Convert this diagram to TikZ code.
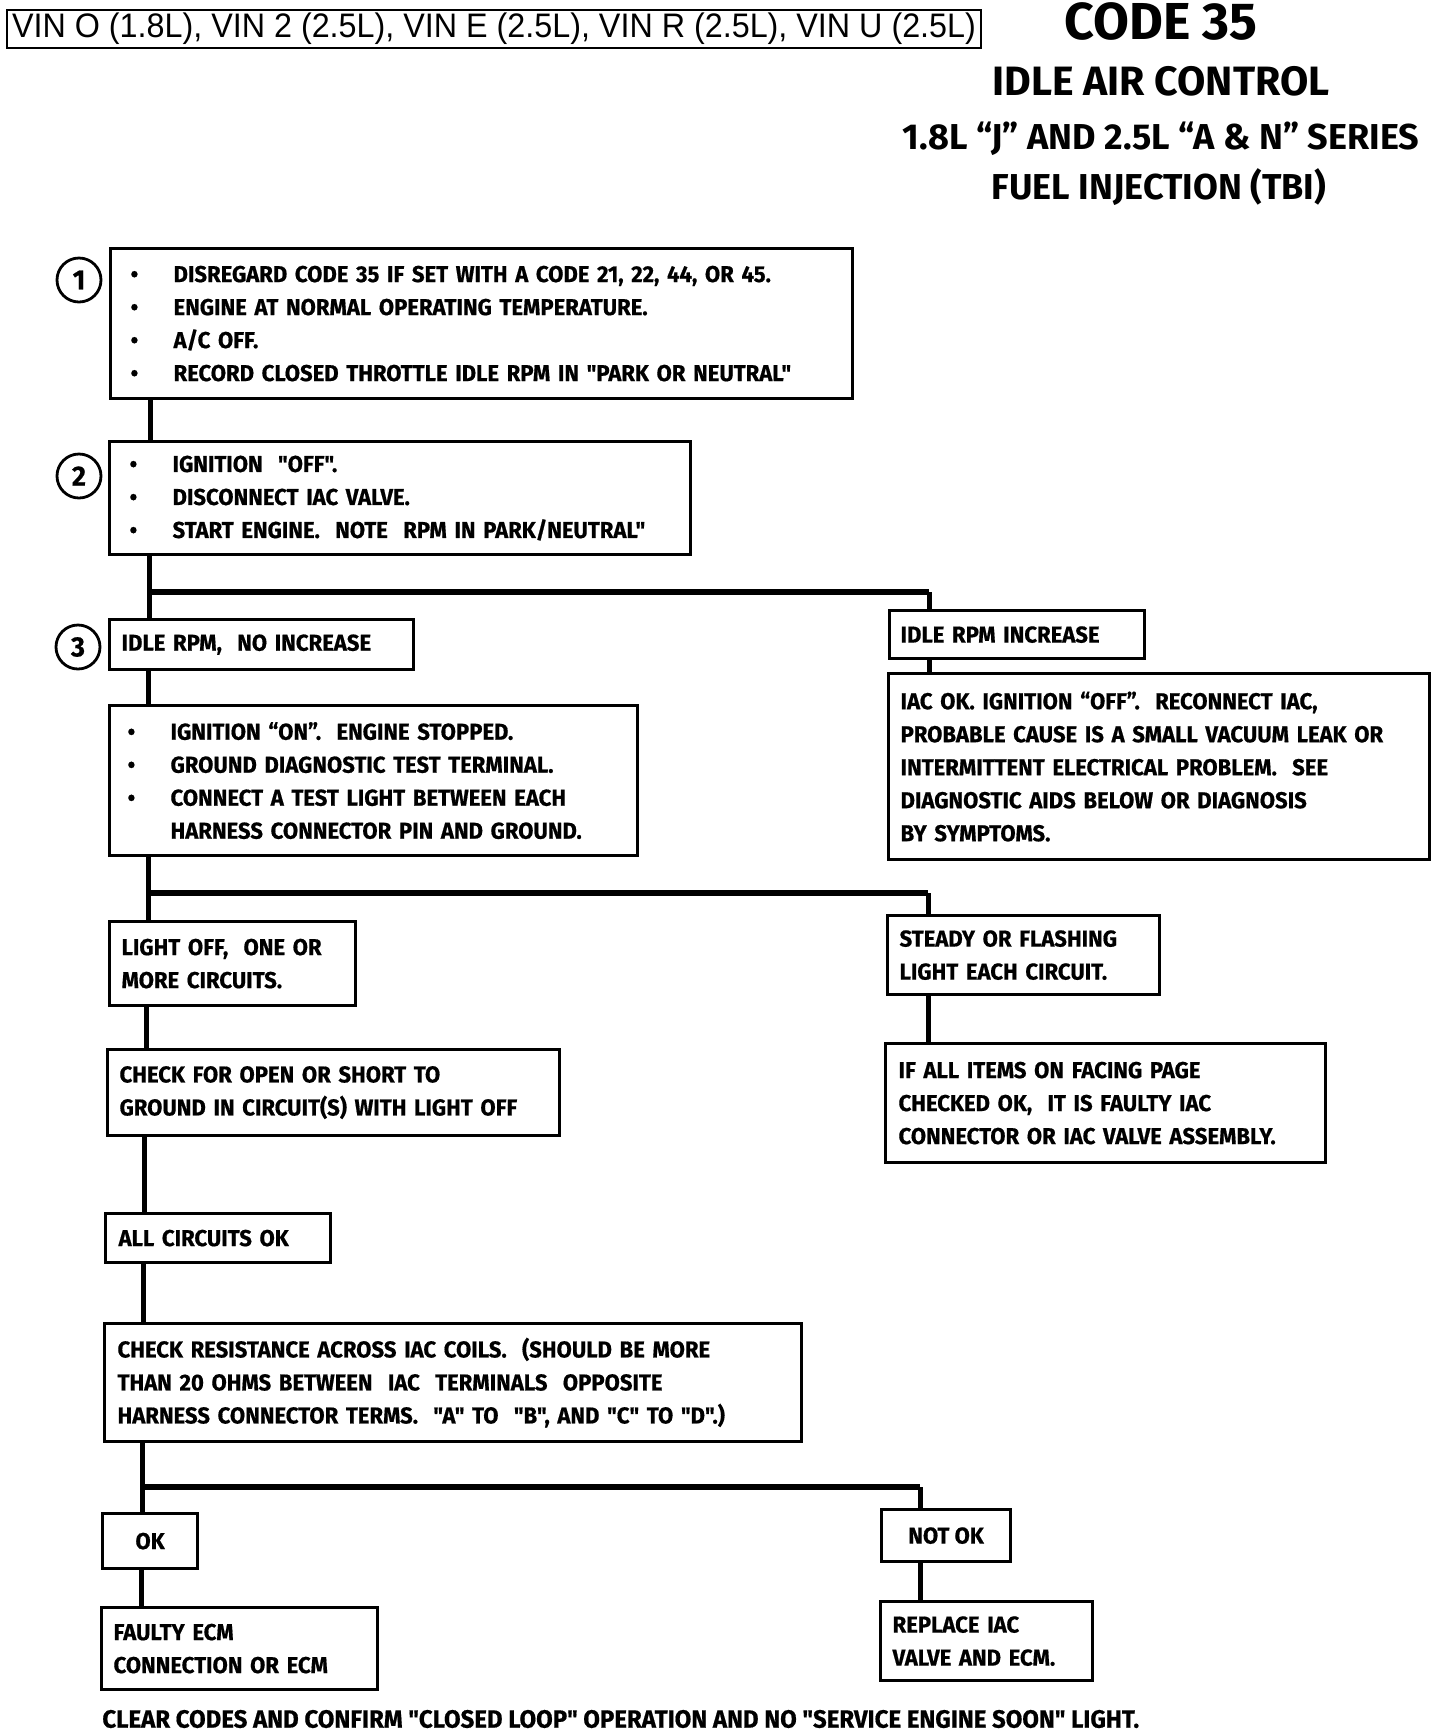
\documentclass[tikz,border=0pt]{standalone}
\usepackage{fontspec}
\newfontfamily\chartfont[FakeStretch=0.96, BoldFeatures={FakeBold=0.6}]{Fira Sans}
\newfontfamily\titlefont[FakeStretch=1.0]{Fira Sans}
\newfontfamily\vinfont[FakeStretch=0.95]{Liberation Sans}
\newcommand{\bul}{\makebox[21.5pt][l]{\textbullet}}

\begin{document}
\begin{tikzpicture}[x=0.5pt, y=-0.5pt,
    box/.style={draw, line width=1.6pt, anchor=north west, align=left, inner ysep=0pt,
        font=\chartfont\bfseries\fontsize{11.5}{16.5}\selectfont},
    link/.style={line width=2.5pt},
    fork/.style={line width=3.4pt},
    num/.style={draw, circle, line width=1.4pt, minimum size=22pt, inner sep=0pt,
        font=\chartfont\bfseries\fontsize{14}{14}\selectfont},
    title/.style={font=\titlefont\bfseries, inner sep=0pt}]

\useasboundingbox (0,0) rectangle (1440,1736);

% Header
    \node[draw, line width=1pt, anchor=north west, minimum width=487pt, minimum height=19pt, inner sep=0pt,
        font=\vinfont\fontsize{17}{17}\selectfont] (V) at (6,9) {VIN O (1.8L), VIN 2 (2.5L), VIN E (2.5L), VIN R (2.5L), VIN U (2.5L)};
    \node[title, font=\titlefont\bfseries\fontsize{26}{26}\selectfont] (T1) at (1161,21) {CODE 35};
    \node[title, font=\titlefont\bfseries\fontsize{20.5}{20.5}\selectfont] (T2) at (1161,81) {IDLE AIR CONTROL};
    \node[title, font=\titlefont\bfseries\fontsize{18}{18}\selectfont] (T3) at (1161,139) {1.8L “J” AND 2.5L “A \& N” SERIES};
    \node[title, font=\titlefont\bfseries\fontsize{18}{18}\selectfont] (T4) at (1159,187) {FUEL INJECTION (TBI)};

% Step numbers
    \node[num] (N1) at (79,280) {1};
    \node[num] (N2) at (79,476) {2};
    \node[num] (N3) at (78,647) {3};

% Left column
    \node[box, minimum width=371pt, minimum height=75pt, inner xsep=10pt, text width=351pt] (B1) at (109,247)
        {\bul DISREGARD CODE 35 IF SET WITH A CODE 21, 22, 44, OR 45.\\
         \bul ENGINE AT NORMAL OPERATING TEMPERATURE.\\
         \bul A/C OFF.\\
         \bul RECORD CLOSED THROTTLE IDLE RPM IN "PARK OR NEUTRAL"};
    \node[box, minimum width=290.5pt, minimum height=56.5pt, inner xsep=10pt, text width=270.5pt] (B2) at (108,440)
        {\bul IGNITION \ "OFF".\\
         \bul DISCONNECT IAC VALVE.\\
         \bul START ENGINE. \ NOTE \ RPM IN PARK/NEUTRAL"};
    \node[box, minimum width=152pt, minimum height=25pt, inner xsep=6pt, text width=140pt] (B3) at (108,618)
        {IDLE RPM, \ NO INCREASE};
    \node[box, minimum width=264pt, minimum height=75pt, inner xsep=9pt, text width=246pt] (B4) at (108,704)
        {\bul IGNITION “ON”. \ ENGINE STOPPED.\\
         \bul GROUND DIAGNOSTIC TEST TERMINAL.\\
         \bul CONNECT A TEST LIGHT BETWEEN EACH\\
         \hspace*{21.5pt}HARNESS CONNECTOR PIN AND GROUND.};
    \node[box, minimum width=123pt, minimum height=42pt, inner xsep=6pt, text width=111pt] (B5) at (108,920)
        {LIGHT OFF, \ ONE OR\\ MORE CIRCUITS.};
    \node[box, minimum width=226pt, minimum height=43pt, inner xsep=6pt, text width=214pt] (B6) at (106,1048)
        {CHECK FOR OPEN OR SHORT TO\\ GROUND IN CIRCUIT(S) WITH LIGHT OFF};
    \node[box, minimum width=112.5pt, minimum height=24.5pt, inner xsep=6.5pt, text width=99.5pt] (B7) at (104,1212)
        {ALL CIRCUITS OK};
    \node[box, minimum width=348.5pt, minimum height=59pt, inner xsep=6.5pt, text width=335.5pt] (B8) at (103,1322)
        {CHECK RESISTANCE ACROSS IAC COILS. \ (SHOULD BE MORE\\
         THAN 20 OHMS BETWEEN \ IAC \ TERMINALS \ OPPOSITE\\
         HARNESS CONNECTOR TERMS. \ "A" TO \ "B", AND "C" TO "D".)};
    \node[box, align=center, minimum width=47.5pt, minimum height=27.5pt, inner xsep=0pt] (B9) at (101,1512) {OK};
    \node[box, minimum width=138pt, minimum height=41pt, inner xsep=6pt, text width=126pt] (B10) at (100,1606)
        {FAULTY ECM\\ CONNECTION OR ECM};

% Right column
    \node[box, minimum width=127.5pt, minimum height=24pt, inner xsep=5.5pt, text width=116.5pt] (R1) at (888,609)
        {IDLE RPM INCREASE};
    \node[box, minimum width=270.5pt, minimum height=93pt, inner xsep=6pt, text width=258.5pt] (R2) at (887,672)
        {IAC OK. IGNITION “OFF”. \ RECONNECT IAC,\\
         PROBABLE CAUSE IS A SMALL VACUUM LEAK OR\\
         INTERMITTENT ELECTRICAL PROBLEM. \ SEE\\
         DIAGNOSTIC AIDS BELOW OR DIAGNOSIS\\
         BY SYMPTOMS.};
    \node[box, minimum width=136pt, minimum height=39.5pt, inner xsep=6pt, text width=124pt] (R3) at (886,914)
        {STEADY OR FLASHING\\ LIGHT EACH CIRCUIT.};
    \node[box, minimum width=220pt, minimum height=59.5pt, inner xsep=6.5pt, text width=207pt] (R4) at (884,1042)
        {IF ALL ITEMS ON FACING PAGE\\ CHECKED OK, \ IT IS FAULTY IAC\\ CONNECTOR OR IAC VALVE ASSEMBLY.};
    \node[box, align=center, minimum width=64.5pt, minimum height=26pt, inner xsep=0pt] (R5) at (880,1508) {NOT OK};
    \node[box, minimum width=106pt, minimum height=39.5pt, inner xsep=6pt, text width=94pt] (R6) at (879,1600)
        {REPLACE IAC\\ VALVE AND ECM.};

% Footer
    \node[anchor=west, inner sep=0pt, font=\chartfont\bfseries\fontsize{12.5}{16.5}\selectfont] (F) at (102,1719)
        {CLEAR CODES AND CONFIRM "CLOSED LOOP" OPERATION AND NO "SERVICE ENGINE SOON" LIGHT.};

% Links
    \coordinate (S1) at ([xshift=20.5pt]B1.south west);
    \coordinate (S2) at ([xshift=20.5pt]B2.south west);
    \coordinate (S3) at ([xshift=20pt]B3.south west);
    \coordinate (S4) at ([xshift=20pt]B4.south west);
    \coordinate (S5) at ([xshift=19pt]B5.south west);
    \coordinate (S6) at ([xshift=19pt]B6.south west);
    \coordinate (S7) at ([xshift=19.5pt]B7.south west);
    \coordinate (S8) at ([xshift=19.5pt]B8.south west);
    \coordinate (S9) at ([xshift=20pt]B9.south west);
    \draw[link] (S1) -- (S1 |- B2.north);
    \draw[link] (S2) -- (S2 |- B3.north);
    \draw[link] (S3) -- (S3 |- B4.north);
    \draw[link] (S4) -- (S4 |- B5.north);
    \draw[link] (S5) -- (S5 |- B6.north);
    \draw[link] (S6) -- (S6 |- B7.north);
    \draw[link] (S7) -- (S7 |- B8.north);
    \draw[link] (S8) -- (S8 |- B9.north);
    \draw[link] (S9) -- (S9 |- B10.north);

    \coordinate (Q1) at ([xshift=20.5pt]R1.north west);
    \coordinate (Q3) at ([xshift=21pt]R3.north west);
    \coordinate (Q5) at ([xshift=20pt]R5.north west);
    \draw[link] (Q1 |- R1.south) -- (Q1 |- R2.north);
    \draw[link] (Q3 |- R3.south) -- (Q3 |- R4.north);
    \draw[link] (Q5 |- R5.south) -- (Q5 |- R6.north);

% Forks
    \coordinate (F1) at (S2 |- 0,592);
    \coordinate (F2) at (S4 |- 0,893);
    \coordinate (F3) at (S8 |- 0,1487);
    \draw[fork] (F1) -- (F1 -| Q1);
    \draw[link] (F1 -| Q1) -- (Q1);
    \draw[fork] (F2) -- (F2 -| Q3);
    \draw[link] (F2 -| Q3) -- (Q3);
    \draw[fork] (F3) -- (F3 -| Q5);
    \draw[link] (F3 -| Q5) -- (Q5);

\end{tikzpicture}
\end{document}
